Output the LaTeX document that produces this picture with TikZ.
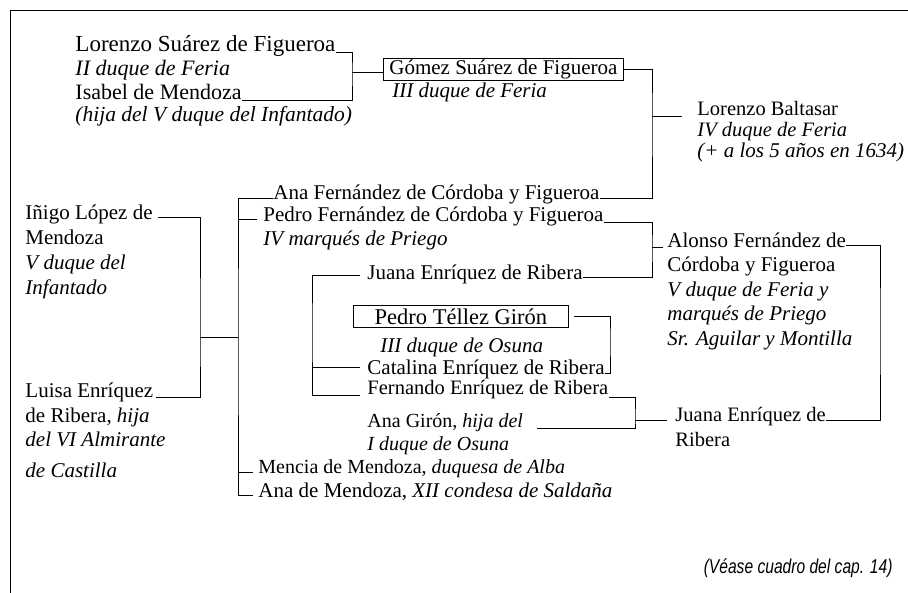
\documentclass[tikz,border=0pt]{standalone}
\usepackage{fontspec}
\setmainfont{Liberation Serif}
\newfontfamily\notefont{Liberation Sans}
\begin{document}
\begin{tikzpicture}[x=1pt,y=-1pt,line width=0.9pt,
  txt/.style={anchor=base west,inner sep=0pt,font=\fontsize{21}{24}\selectfont},
  itx/.style={txt,font=\fontsize{21}{24}\selectfont\itshape},
  sz/.style={font=\fontsize{#1}{24}\selectfont},
  szit/.style={font=\fontsize{#1}{24}\selectfont\itshape},
  namebox/.style={draw,line width=0.8pt,anchor=north west,inner sep=0pt,minimum height=22pt}]
\useasboundingbox (0,0) rectangle (908,593);
% frame
\draw (10,593) -- (10,10) -- (908,10);

% Lorenzo Suarez / Isabel de Mendoza
\node[txt,sz=23] (lsf) at (75,52) {Lorenzo Suárez de Figueroa};
\node[txt,szit=22] (lsf2) at (75,76) {II duque de Feria};
\node[txt,sz=22] (ime) at (75,100) {Isabel de Mendoza};
\node[txt,szit=21.5] (ime2) at (75,122) {(hija del V duque del Infantado)};
\coordinate (b1) at (352,72);
\draw (lsf.base east) -| (b1) |- (ime.base east);

% Gomez Suarez
\node[namebox,txt,anchor=north west,inner xsep=6pt,inner ysep=0pt,draw] (gsf) at (383,58) {Gómez Suárez de Figueroa};
\draw (b1) -- (b1 -| gsf.west);
\node[itx] (gsf2) at (392,98) {III duque de Feria};

% Lorenzo Baltasar
\node[txt,sz=20.5] (lb) at (697,116) {Lorenzo Baltasar};
\node[txt,szit=20.5] (lb2) at (697,137) {IV duque de Feria};
\node[itx] (lb3) at (697,158) {(+ a los 5 años en 1634)};
\coordinate (b2) at (652,116);

% children of Iñigo / Luisa
\node[txt] (ana) at (273,200) {Ana Fernández de Córdoba y Figueroa};
\node[txt] (pfc) at (263,222) {Pedro Fernández de Córdoba y Figueroa};
\node[itx] (pfc2) at (263,246) {IV marqués de Priego};
\draw (gsf.east) -| (b2) |- ([yshift=2pt]ana.base east);
\draw (b2) -- ([xshift=-15pt]lb.base west);

% Iñigo and Luisa
\node[txt] (ilm) at (25,220) {Iñigo López de};
\node[txt] (ilm2) at (25,245) {Mendoza};
\node[itx] (ilm3) at (25,270) {V duque del};
\node[itx] (ilm4) at (25,295) {Infantado};
\node[txt] (lue) at (25,398) {Luisa Enríquez};
\node[txt] (lue2) at (25,423) {de Ribera, \textit{hija}};
\node[itx] (lue3) at (25,447) {del VI Almirante};
\node[itx] (lue4) at (25,478) {de Castilla};
\coordinate (b4) at (200,337);
\coordinate (b5) at (238,337);
\draw ([xshift=5pt,yshift=3pt]ilm.base east) -| (b4) |- ([xshift=2pt,yshift=1pt]lue.base east);
\draw (b4) -- (b5);

\node[txt,sz=20] (mdm) at (258,474) {Mencia de Mendoza, \textit{duquesa de Alba}};
\node[txt] (amz) at (258,497) {Ana de Mendoza, \textit{XII condesa de Saldaña}};
\draw ([yshift=2pt]ana.base west) -| (b5) |- ([xshift=-5pt,yshift=2pt]amz.base west);
\draw ([xshift=-6pt,yshift=3pt]pfc.base west) -- ([yshift=3pt]pfc.base west -| b5);
\draw ([xshift=-5pt,yshift=2pt]mdm.base west) -- ([yshift=2pt]mdm.base west -| b5);

% Juana / Catalina / Fernando
\node[txt] (jer1) at (367,280) {Juana Enríquez de Ribera};
\node[namebox,txt,anchor=north west,minimum width=215pt,draw,sz=22.5] (ptg) at (353,305) {Pedro Téllez Girón};
\node[itx] (ptg2) at (380,353) {III duque de Osuna};
\node[txt] (cat) at (367,375) {Catalina Enríquez de Ribera};
\node[txt,sz=20.5] (fer) at (367,395) {Fernando Enríquez de Ribera};
\node[txt,sz=20] (agi) at (367,428) {Ana Girón, \textit{hija del}};
\node[txt,szit=20] (agi2) at (367,451) {I duque de Osuna};
\coordinate (b6) at (312,330);
\draw ([xshift=-7pt,yshift=5pt]jer1.base west) -| (b6) |- ([xshift=-7pt]fer.base west);
\draw ([xshift=-7pt,yshift=8pt]cat.base west) -- ([yshift=8pt]cat.base west -| b6);

% Alonso
\node[txt] (afc) at (667,248) {Alonso Fernández de};
\node[txt] (afc2) at (667,272) {Córdoba y Figueroa};
\node[itx] (afc3) at (667,297) {V duque de Feria y};
\node[itx] (afc4) at (667,321) {marqués de Priego};
\node[itx] (afc5) at (667,346) {Sr. Aguilar y Montilla};
\coordinate (b3) at (652,247);
\draw (pfc.base east) -| (b3) |- ([yshift=3pt]jer1.base east);
\draw (b3) -- ([xshift=-4pt,yshift=1pt]afc.base west);

% Pedro Tellez + Catalina
\coordinate (b7) at (610,340);
\draw ([xshift=5pt]ptg.east) -| (b7) |- ([yshift=2pt]cat.base east);

% Fernando + Ana Giron -> Juana
\node[txt,sz=20.5] (jer2) at (675,422) {Juana Enríquez de};
\node[txt,sz=20.5] (jer2b) at (675,447) {Ribera};
\coordinate (b8) at (635,420);
\draw ([yshift=-2pt]fer.base east) -| (b8) |- ([xshift=14pt]agi.base east);
\draw (b8) -- ([xshift=-8pt,yshift=2pt]jer2.base west);

% Alonso + Juana
\coordinate (b9) at (880,330);
\draw ([yshift=3pt]afc.base east) -| (b9) |- ([yshift=2pt]jer2.base east);

% note
\node[anchor=base east,inner sep=0pt] (note) at (893,573) {\scalebox{0.78}[1]{\notefont\itshape\fontsize{20}{20}\selectfont (Véase cuadro del cap. 14)}};
\end{tikzpicture}
\end{document}
